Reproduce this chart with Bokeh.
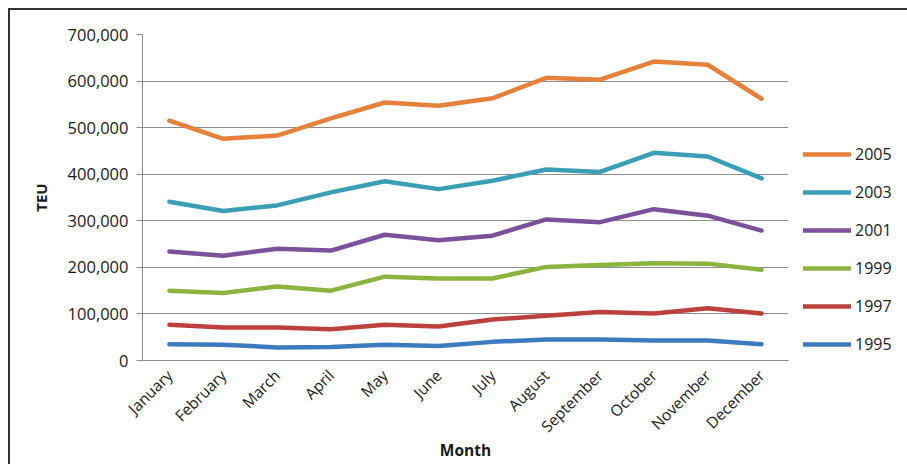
from bokeh.plotting import figure
from bokeh.models import (FactorRange, Range1d, FixedTicker, NumeralTickFormatter,
                          Legend, LegendItem)
from bokeh.embed import file_html
from bokeh.resources import INLINE
from math import pi

months = ["January", "February", "March", "April", "May", "June", "July",
          "August", "September", "October", "November", "December"]

teu_2005 = [515000, 476000, 483000, 520000, 554000, 547000, 563000, 607000, 603000, 642000, 635000, 562000]
teu_2003 = [341000, 321000, 333000, 361000, 385000, 368000, 386000, 410000, 405000, 446000, 438000, 391000]
teu_2001 = [234000, 225000, 240000, 236000, 270000, 258000, 268000, 303000, 297000, 325000, 311000, 279000]
teu_1999 = [150000, 145000, 159000, 150000, 180000, 176000, 176000, 201000, 205000, 209000, 208000, 195000]
teu_1997 = [77000, 71000, 71000, 67000, 77000, 73000, 88000, 96000, 104000, 101000, 112000, 101000]
teu_1995 = [35000, 34000, 28000, 29000, 34000, 31000, 40000, 45000, 45000, 43000, 43000, 35000]

series_names = ["2005", "2003", "2001", "1999", "1997", "1995"]
series_values = [teu_2005, teu_2003, teu_2001, teu_1999, teu_1997, teu_1995]
series_colors = ["#E5813A", "#3A9FB6", "#7B519C", "#8AB43E", "#BC403C", "#3C7BBE"]

y_ticks = [0, 100000, 200000, 300000, 400000, 500000, 600000, 700000]

FONT = "Open Sans"
TXT = "#1a1a1a"

p = figure(x_range=FactorRange(*months, range_padding=0),
           y_range=Range1d(0, 700000),
           frame_width=646, frame_height=326,
           output_backend="svg", toolbar_location=None,
           min_border_left=132, min_border_right=0,
           min_border_top=24, min_border_bottom=100)
p.margin = (8, 0, 0, 8)
p.styles = {"border-top": "2px solid #333333", "border-left": "2px solid #333333"}

p.outline_line_color = None
p.background_fill_color = "white"
p.border_fill_color = "white"

items = []
for name, vals, col in zip(series_names, series_values, series_colors):
    r = p.line(months, vals, line_color=col, line_width=4.5, line_cap="round", line_join="round")
    items.append(LegendItem(label=name, renderers=[r]))

# axes
p.yaxis.ticker = FixedTicker(ticks=y_ticks)
p.yaxis.formatter = NumeralTickFormatter(format="0,0")
p.yaxis.axis_line_color = "#8c8c8c"
p.yaxis.major_tick_line_color = "#8c8c8c"
p.yaxis.major_tick_out = 6
p.yaxis.major_tick_in = 0
p.yaxis.minor_tick_line_color = None
p.yaxis.major_label_text_font = FONT
p.yaxis.major_label_text_font_size = "16.5px"
p.yaxis.major_label_text_color = TXT
p.yaxis.major_label_standoff = 8
p.yaxis.axis_label = "TEU"
p.yaxis.axis_label_text_font = FONT
p.yaxis.axis_label_text_font_style = "bold"
p.yaxis.axis_label_text_font_size = "15px"
p.yaxis.axis_label_text_color = TXT
p.yaxis.axis_label_standoff = 14

p.xaxis.axis_line_color = "#8c8c8c"
p.xaxis.major_tick_line_color = None
p.xaxis.minor_tick_line_color = None
p.xaxis.major_label_orientation = pi / 4
p.xaxis.major_label_text_font = FONT
p.xaxis.major_label_text_font_size = "15.5px"
p.xaxis.major_label_text_color = TXT
p.xaxis.major_label_standoff = 6
p.xaxis.axis_label = "Month"
p.xaxis.axis_label_text_font = FONT
p.xaxis.axis_label_text_font_style = "bold"
p.xaxis.axis_label_text_font_size = "15.5px"
p.xaxis.axis_label_text_color = TXT
p.xaxis.axis_label_standoff = -8

p.ygrid.grid_line_color = "#8c8c8c"
p.ygrid.grid_line_width = 1
p.xgrid.grid_line_color = None

legend = Legend(items=items, location=(15, 5), orientation="vertical",
                padding=0, margin=0, spacing=16,
                glyph_width=48, glyph_height=20, label_height=20,
                label_standoff=4,
                label_text_font=FONT, label_text_font_size="16px",
                label_text_color=TXT,
                border_line_color=None, background_fill_alpha=0)
p.add_layout(legend, "right")

open("out.html", "w").write(file_html(p, INLINE))
